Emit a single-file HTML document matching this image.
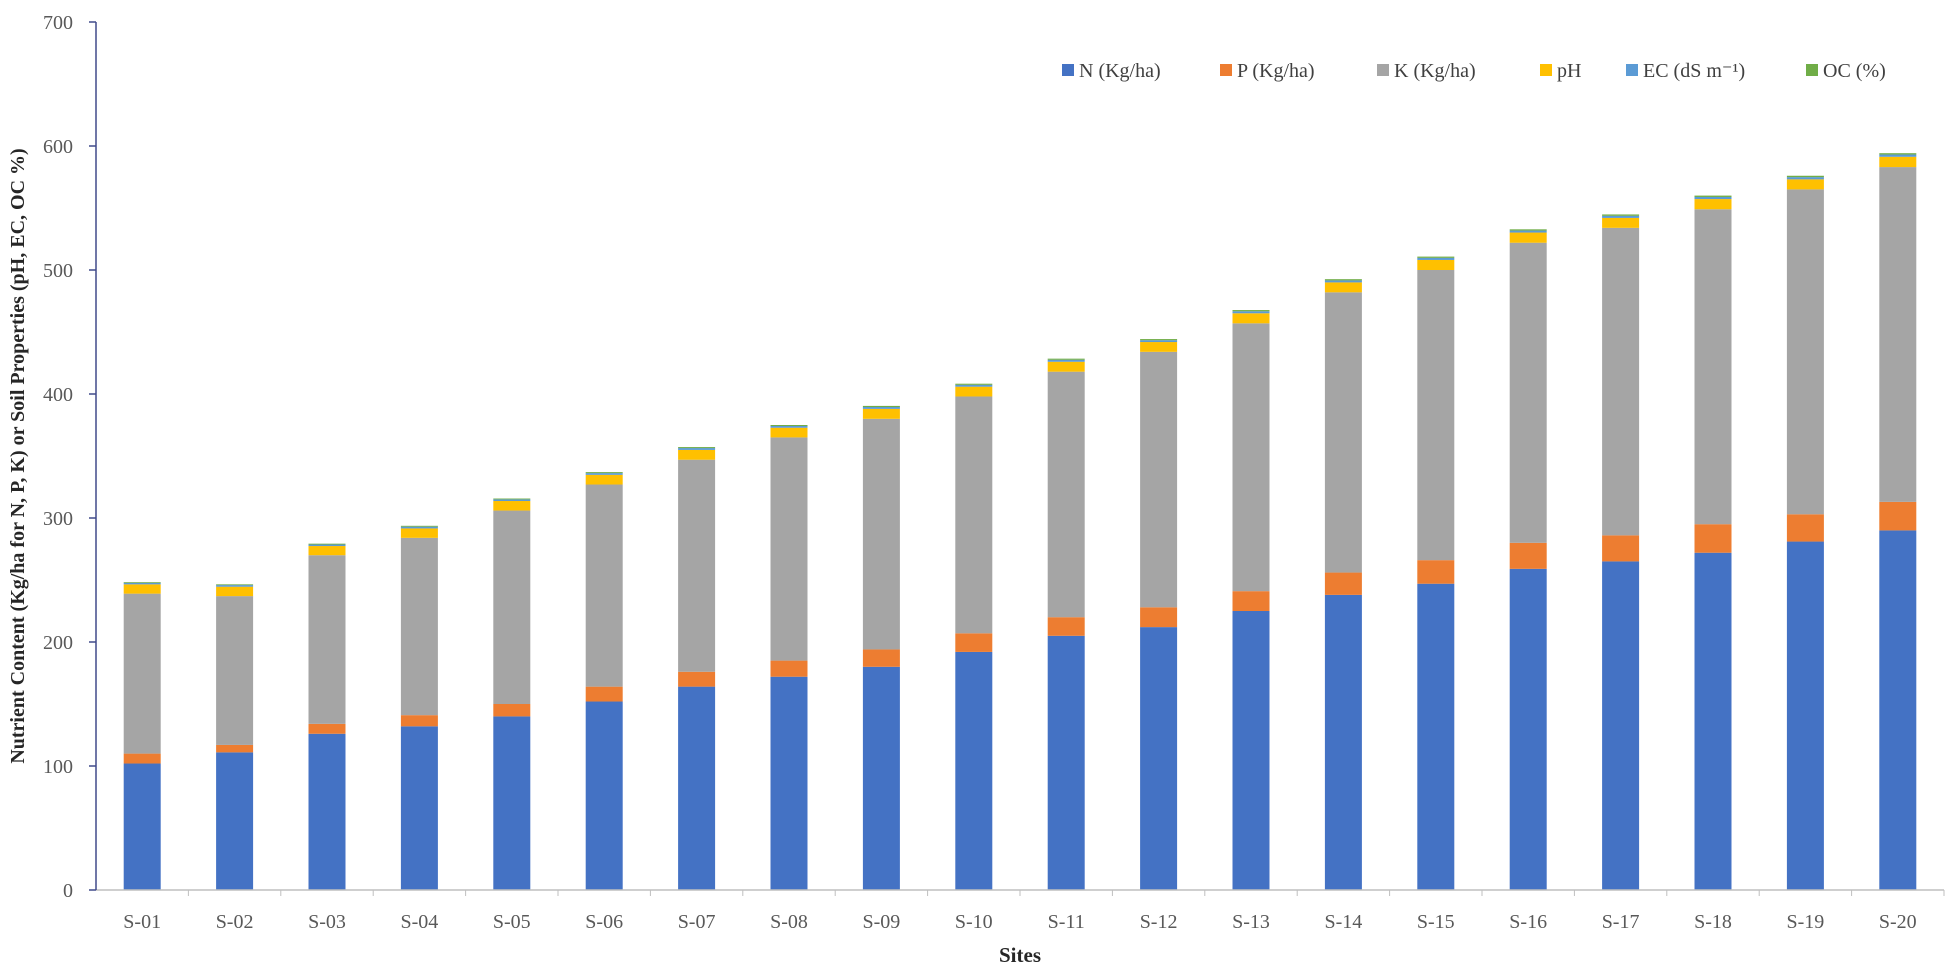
<!DOCTYPE html>
<html><head><meta charset="utf-8"><style>
html,body{margin:0;padding:0;background:#fff;}
svg{display:block;font-family:"Liberation Serif",serif;}
</style></head><body>
<svg id="chart" width="1949" height="970" viewBox="0 0 1949 970">
<g id="plot"></g>
<text x="0" y="0" transform="translate(24,456) rotate(-90)" text-anchor="middle" font-size="20" font-weight="bold" fill="#262626">Nutrient Content (Kg/ha for N, P, K) or Soil Properties (pH, EC, OC %)</text>
<text x="1020" y="962" text-anchor="middle" font-size="21" font-weight="bold" fill="#262626">Sites</text>
<g id="legend"></g>
</svg>
<script>
const categories = ["S-01","S-02","S-03","S-04","S-05","S-06","S-07","S-08","S-09","S-10","S-11","S-12","S-13","S-14","S-15","S-16","S-17","S-18","S-19","S-20"];
const nValues = [102,111,126,132,140,152,164,172,180,192,205,212,225,238,247,259,265,272,281,290];
const pValues = [8,6,8,9,10,12,12,13,14,15,15,16,16,18,19,21,21,23,22,23];
const kValues = [129,120,136,143,156,163,171,180,186,191,198,206,216,226,234,242,248,254,262,270];
const phValues = [7.5,7.6,7.4,7.6,7.7,7.8,7.9,7.8,8.0,7.9,8.0,7.9,8.1,8.0,8.1,8.2,8.0,8.2,8.1,8.3];
const ecValues = [1.2,1.3,1.2,1.4,1.3,1.4,1.5,1.4,1.5,1.5,1.6,1.5,1.6,1.6,1.7,1.6,1.7,1.7,1.8,1.8];
const ocValues = [0.6,0.6,0.7,0.7,0.7,0.8,0.8,0.8,0.9,0.9,0.9,0.9,1.0,1.0,1.0,1.0,1.1,1.1,1.1,1.1];
const yTicks = [0,100,200,300,400,500,600,700];
const seriesNames = ["N (Kg/ha)","P (Kg/ha)","K (Kg/ha)","pH","EC (dS m\u207B\u00B9)","OC (%)"];

const NS="http://www.w3.org/2000/svg";
const colors=["#4472C4","#ED7D31","#A5A5A5","#FFC000","#5B9BD5","#70AD47"];
const series=[nValues,pValues,kValues,phValues,ecValues,ocValues];
const keys=["n","p","k","ph","ec","oc"];
const x0=96, band=92.4, barW=37, yZero=890, yTop=22, yMax=700;
const y=v=>yZero-(v/yMax)*(yZero-yTop);
const xc=i=>x0+band*(i+0.5);
const plot=document.getElementById('plot');
function mk(tag,attrs,parent){const e=document.createElementNS(NS,tag);for(const k in attrs)e.setAttribute(k,attrs[k]);parent.appendChild(e);return e;}

// y axis ticks and labels
yTicks.forEach(t=>{
  const ln=mk('line',{x1:x0-7,x2:x0,y1:y(t),y2:y(t),stroke:'#404a8a','stroke-width':1.5},plot);
  
  
  const tx=mk('text',{x:x0-23,y:y(t)+7,'text-anchor':'end','font-size':20,fill:'#595959'},plot);
  tx.textContent=t;
  
  
});

// bars
categories.forEach((c,i)=>{
  let acc=0;
  series.forEach((s,j)=>{
    const v=s[i];
    const r=mk('rect',{x:xc(i)-barW/2,y:y(acc+v),width:barW,height:Math.max(0,y(acc)-y(acc+v)),fill:colors[j]},plot);
    
    
    acc+=v;
  });
  const tl=mk('line',{x1:x0+band*(i+1),x2:x0+band*(i+1),y1:yZero,y2:yZero+6,stroke:'#bfbfbf','stroke-width':1},plot);
  
  
  const lb=mk('text',{x:xc(i),y:928,'text-anchor':'middle','font-size':20,fill:'#595959'},plot);
  lb.textContent=c;
  
  
});

// axes
const xa=mk('line',{x1:x0,x2:x0+band*20,y1:yZero,y2:yZero,stroke:'#bfbfbf','stroke-width':1.5},plot);


const ya=mk('line',{x1:x0,x2:x0,y1:yTop,y2:yZero,stroke:'#404a8a','stroke-width':1.5},plot);



// legend
const leg=document.getElementById('legend');
const legX=[1062,1220,1377,1540,1626,1806];
seriesNames.forEach((n,j)=>{
  const g=mk('g',{},leg);
  
  
  mk('rect',{x:legX[j],y:64,width:12,height:12,fill:colors[j]},g);
  const t=mk('text',{x:legX[j]+17,y:77,'font-size':20,fill:'#404040'},g);
  t.textContent=n;
});
</script>
</body></html>
